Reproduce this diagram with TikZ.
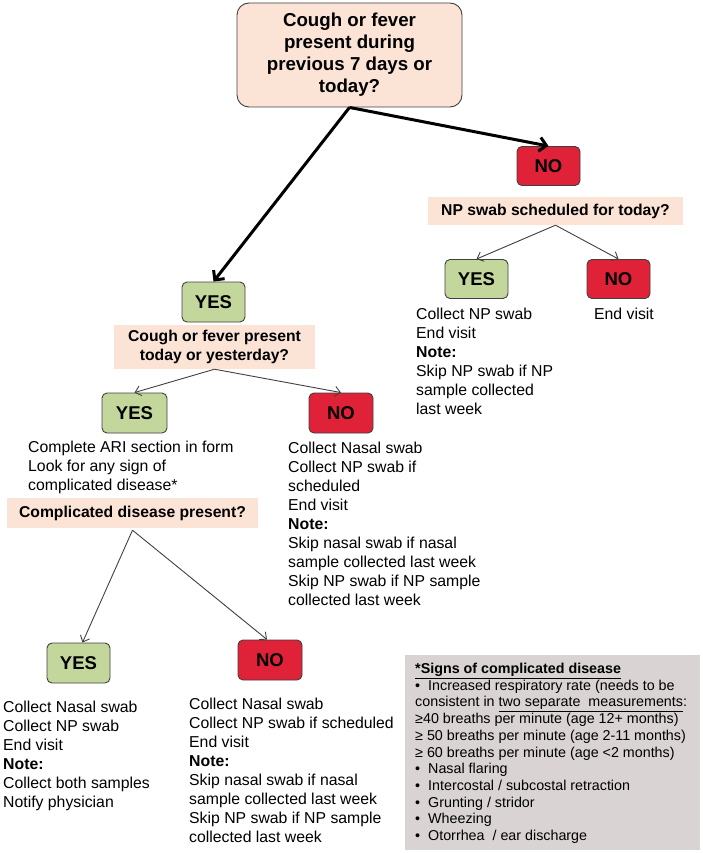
\documentclass[tikz,border=0pt]{standalone}
\usepackage{fontspec}
\setmainfont{Liberation Sans}
\usetikzlibrary{arrows.meta}
\definecolor{peach}{HTML}{FBE3D6}
\definecolor{yesgreen}{HTML}{C3D69B}
\definecolor{nored}{HTML}{DF2238}
\definecolor{notegray}{HTML}{D9D3D3}
\definecolor{edgegray}{HTML}{404040}
\tikzset{
  box/.style={draw=edgegray, rounded corners=5pt, line width=0.9pt, minimum width=63pt, minimum height=39pt, inner sep=0pt, font=\bfseries\fontsize{18.5}{20}\selectfont},
  yesbox/.style={box, fill=yesgreen},
  nobox/.style={box, fill=nored},
  qbar/.style={fill=peach, inner sep=0pt, align=center, font=\bfseries\fontsize{15.7}{18.5}\selectfont},
  body/.style={inner sep=0pt, anchor=north west, align=left, font=\fontsize{15.8}{19}\selectfont, execute at begin node={\rule{0pt}{12pt}}},
  signtext/.style={inner sep=0pt, anchor=north west, align=left, font=\fontsize{14.3}{16.7}\selectfont, execute at begin node={\rule{0pt}{11pt}}},
  thinarrow/.style={draw=edgegray, line width=0.9pt, -{Straight Barb[length=5.5pt,width=10pt]}},
  thickarrow/.style={draw=black, line width=3pt, -{Straight Barb[length=7pt,width=14pt]}},
}
\begin{document}
\begin{tikzpicture}[x=1pt,y=-1pt]
\useasboundingbox (0,0) rectangle (702,853);

% top question
\node[draw=edgegray, fill=peach, rounded corners=12pt, line width=0.9pt, minimum width=225pt, minimum height=104pt, inner sep=0pt, align=center, font=\bfseries\fontsize{18.7}{22}\selectfont] (top) at (349.5,55) {Cough or fever\\present during\\previous 7 days or\\today?};

% right branch
\node[nobox] (no1) at (548.5,166) {NO};
\node[qbar, minimum width=255pt, minimum height=28pt] (npq) at (555.5,211) {NP swab scheduled for today?};
\node[yesbox] (yes2) at (476.5,279) {YES};
\node[nobox] (no2) at (618.5,279) {NO};
\node[body] (yes2txt) at (416,308) {Collect NP swab\\End visit\\\textbf{Note:}\\Skip NP swab if NP\\sample collected\\last week};
\node[inner sep=0pt, anchor=base, font=\fontsize{15.8}{19}\selectfont] (no2txt) at (624,319) {End visit};

% left branch
\node[yesbox, minimum height=40pt] (yes1) at (213.5,302) {YES};
\node[qbar, minimum width=201pt, minimum height=44pt] (coughq) at (214.5,347) {Cough or fever present\\today or yesterday?};
\node[yesbox, minimum width=65pt, minimum height=40pt] (yes3) at (134.5,413) {YES};
\node[nobox, minimum width=64pt, minimum height=40pt] (no3) at (341,413) {NO};
\node[body] (yes3txt) at (28,441) {Complete ARI section in form\\Look for any sign of\\complicated disease*};
\node[body] (no3txt) at (288,442) {Collect Nasal swab\\Collect NP swab if\\scheduled\\End visit\\\textbf{Note:}\\Skip nasal swab if nasal\\sample collected last week\\Skip NP swab if NP sample\\collected last week};
\node[qbar, minimum width=251pt, minimum height=30pt] (compq) at (132.5,513) {Complicated disease present?};
\node[yesbox, minimum height=40pt] (yes4) at (78.5,663) {YES};
\node[nobox, minimum width=64pt, minimum height=40pt] (no4) at (270,660) {NO};
\node[body] (yes4txt) at (3,701) {Collect Nasal swab\\Collect NP swab\\End visit\\\textbf{Note:}\\Collect both samples\\Notify physician};
\node[body] (no4txt) at (189,698) {Collect Nasal swab\\Collect NP swab if scheduled\\End visit\\\textbf{Note:}\\Skip nasal swab if nasal\\sample collected last week\\Skip NP swab if NP sample\\collected last week};

% signs box
\node[fill=notegray, minimum width=295pt, minimum height=195pt, inner sep=0pt, anchor=north west] (signsbg) at (405,655) {};
\node[signtext] (signs) at (415,663) {\textbf{\underline{*Signs of complicated disease}}\\
\makebox[13pt][l]{•}Increased respiratory rate (needs to be\\
consistent in \underline{two separate\ \ measurements}:\\
≥40 breaths per minute (age 12+ months)\\
≥ 50 breaths per minute (age 2-11 months)\\
≥ 60 breaths per minute (age <2 months)\\
\makebox[13pt][l]{•}Nasal flaring\\
\makebox[13pt][l]{•}Intercostal / subcostal retraction\\
\makebox[13pt][l]{•}Grunting / stridor\\
\makebox[13pt][l]{•}Wheezing\\
\makebox[13pt][l]{•}Otorrhea\ \ / ear discharge};

% connectors
\draw[thickarrow] (top.south) -- (yes1.north);
\draw[thickarrow] (top.south) -- (no1.north);
\draw[thinarrow] (npq.south) -- (yes2.north);
\draw[thinarrow] (npq.south) -- (no2.north);
\draw[thinarrow] (coughq.south) -- (yes3.north);
\draw[thinarrow] (coughq.south) -- (no3.north);
\coordinate (compsrc) at ([yshift=-2pt]compq.south);
\draw[thinarrow] (compsrc) -- ([xshift=4pt]yes4.north);
\draw[thinarrow] (compsrc) -- ([xshift=-3pt]no4.north);
\end{tikzpicture}
\end{document}
